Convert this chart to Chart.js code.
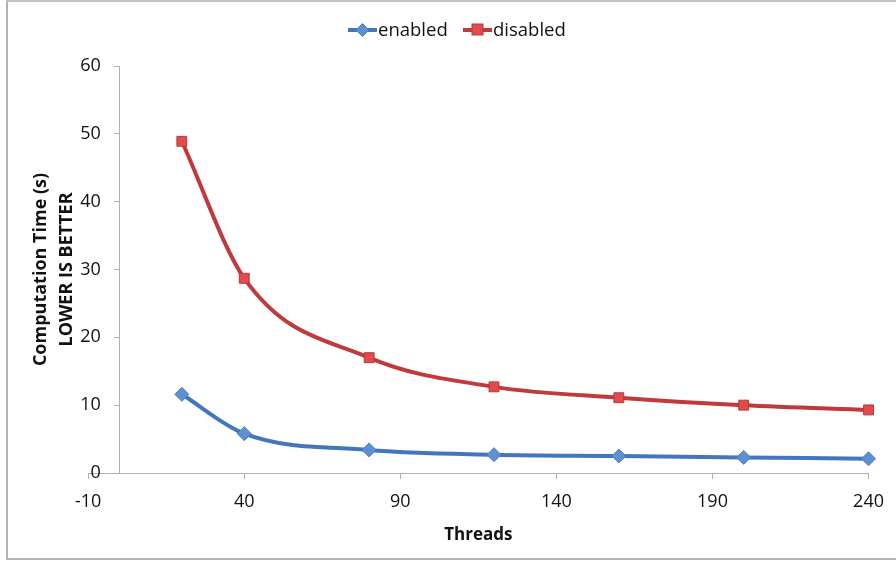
<!DOCTYPE html>
<html>
<head>
<meta charset="utf-8">
<script src="https://cdn.jsdelivr.net/npm/chart.js@4/dist/chart.umd.min.js"></script>
<style>
  html, body { margin: 0; padding: 0; background: #fff; }
  #wrap { position: absolute; left: 0; top: 0; width: 896px; height: 563px; }
  #frame { position: absolute; left: 6px; top: 0; width: 900px; height: 560px;
           border-left: 2px solid #b3b3b3; border-top: 2px solid #c4c4c4; border-bottom: 2px solid #b3b3b3; box-sizing: border-box; }
  canvas { position: absolute; left: 0; top: 0; }
</style>
</head>
<body>
<div id="wrap">
  <div id="frame"></div>
  <canvas id="myChart" width="896" height="563"></canvas>
</div>
<script>
const threads = [20, 40, 80, 120, 160, 200, 240];
const enabledTimes = [11.6, 5.8, 3.4, 2.7, 2.5, 2.3, 2.1];
const disabledTimes = [48.9, 28.7, 17.0, 12.7, 11.1, 10.0, 9.3];
const seriesNames = ["enabled", "disabled"];

const blue = "#4377bd", blueFill = "#5e90d4";
const red = "#c0393b", redFill = "#e24a4c";
const fontFam = "'Open Sans', sans-serif";

const toPoints = (ys) => threads.map((x, i) => ({ x: x, y: ys[i] }));

// legend: line + marker + label, like the office style
const lineLegend = {
  id: "lineLegend",
  afterDraw(chart) {
    const ctx = chart.ctx;
    const items = [
      { x: 348, ds: chart.data.datasets[0] },
      { x: 463, ds: chart.data.datasets[1] }
    ];
    const y = 30;
    ctx.save();
    ctx.font = "18.5px " + fontFam;
    ctx.textBaseline = "middle";
    items.forEach((it) => {
      ctx.strokeStyle = it.ds.borderColor;
      ctx.lineWidth = 4;
      ctx.beginPath();
      ctx.moveTo(it.x, y);
      ctx.lineTo(it.x + 29, y);
      ctx.stroke();
      ctx.fillStyle = it.ds.pointBackgroundColor;
      ctx.strokeStyle = it.ds.pointBorderColor;
      ctx.lineWidth = 1;
      if (it.ds.pointStyle === "rectRot") {
        ctx.beginPath();
        ctx.moveTo(it.x + 14.5, y - 6.5);
        ctx.lineTo(it.x + 21, y);
        ctx.lineTo(it.x + 14.5, y + 6.5);
        ctx.lineTo(it.x + 8, y);
        ctx.closePath();
        ctx.fill();
        ctx.stroke();
      } else {
        ctx.fillRect(it.x + 9, y - 6, 11, 11);
        ctx.strokeRect(it.x + 9, y - 6, 11, 11);
      }
      ctx.fillStyle = "#111";
      ctx.fillText(it.ds.label, it.x + 30, y + 1);
    });
    ctx.restore();
  }
};

new Chart("myChart", {
  type: "line",
  data: {
    datasets: [
      {
        label: seriesNames[0],
        data: toPoints(enabledTimes),
        borderColor: blue,
        borderWidth: 4,
        pointStyle: "rectRot",
        pointRadius: 7,
        pointBackgroundColor: blueFill,
        pointBorderColor: "#4a7cc0",
        pointBorderWidth: 1,
        cubicInterpolationMode: "monotone",
        clip: false
      },
      {
        label: seriesNames[1],
        data: toPoints(disabledTimes),
        borderColor: red,
        borderWidth: 4,
        pointStyle: "rect",
        pointRadius: 7,
        pointBackgroundColor: redFill,
        pointBorderColor: "#b8393a",
        pointBorderWidth: 1,
        cubicInterpolationMode: "monotone",
        clip: false
      }
    ]
  },
  options: {
    responsive: false,
    animation: false,
    layout: { padding: { top: 66, left: 18, right: 19, bottom: 14 } },
    plugins: {
      legend: { display: false },
      tooltip: { enabled: false }
    },
    scales: {
      x: {
        type: "linear",
        min: -10,
        max: 240,
        ticks: { stepSize: 50, color: "#111", font: { family: fontFam, size: 18 }, padding: 12 },
        grid: { drawOnChartArea: false, drawTicks: true, tickLength: 6, color: "#b0b0b0" },
        border: { color: "#b0b0b0", width: 1 },
        title: { display: true, text: "Threads", color: "#111", font: { family: fontFam, size: 17, weight: "bold" }, padding: { top: 0 } }
      },
      // value axis sits at x = 0, like the original
      y: {
        position: { x: 0 },
        min: 0,
        max: 60,
        ticks: { stepSize: 10, color: "#111", font: { family: fontFam, size: 18 }, callback: (v) => v + "    " },
        grid: { drawOnChartArea: false, drawTicks: true, tickLength: 5, color: "#b0b0b0" },
        border: { color: "#b0b0b0", width: 1 }
      },
      // only carries the axis title on the far left
      yTitle: {
        position: "left",
        min: 0,
        max: 60,
        ticks: { display: false },
        grid: { display: false },
        border: { display: false },
        title: { display: true, text: ["Computation Time (s)", "LOWER IS BETTER"], color: "#111", font: { family: fontFam, size: 18, weight: "bold", lineHeight: 1.45 }, padding: { top: 10, bottom: 0 } }
      }
    }
  },
  plugins: [lineLegend]
});
</script>
</body>
</html>
